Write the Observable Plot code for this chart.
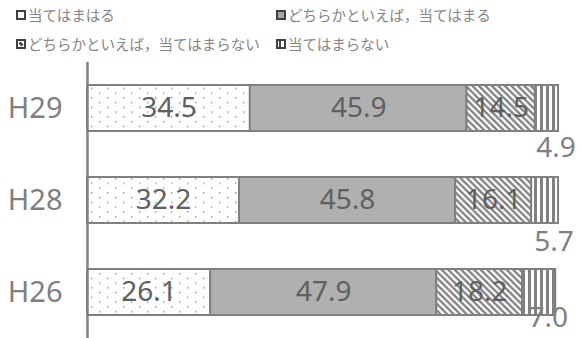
<!DOCTYPE html>
<html>
<head>
<meta charset="utf-8">
<script src="https://cdn.jsdelivr.net/npm/d3@7"></script>
<script src="https://cdn.jsdelivr.net/npm/@observablehq/plot@0.6"></script>
<style>
  body { margin: 0; background: #fff; }
  #wrap { position: relative; width: 581px; height: 338px; overflow: hidden; }
  #legend { position: relative; height: 62px; font-family: "Noto Sans CJK JP", sans-serif; font-size: 14.5px; color: #858585; }
  .item { position: absolute; display: flex; align-items: center; white-space: nowrap; line-height: 1; }
  .item svg { margin-right: 2px; }
  #chart svg { display: block; }
</style>
</head>
<body>
<div id="wrap">
  <div id="legend"></div>
  <div id="chart"></div>
</div>
<script>
// ---- data ----
const years = ["H29", "H28", "H26"];
const categories = [
  "当てはまはる",
  "どちらかといえば，当てはまる",
  "どちらかといえば，当てはまらない",
  "当てはまらない"
];
const fitsWell      = [34.5, 32.2, 26.1];
const fitsSomewhat  = [45.9, 45.8, 47.9];
const notSomewhat   = [14.5, 16.1, 18.2];
const notAtAll      = [4.9, 5.7, 7.0];

// ---- styles (not data) ----
const patternIds = ["pDots", "pSolid", "pDiag", "pVert"];
const smallLabelDy = {H29: 40, H28: 42, H26: 26};

// build table
const series = [fitsWell, fitsSomewhat, notSomewhat, notAtAll];
const rows = [];
years.forEach((y, i) => {
  let cum = 0;
  categories.forEach((c, j) => {
    const v = series[j][i];
    rows.push({year: y, cat: c, idx: j, value: v, x1: cum, x2: cum + v, mid: cum + v / 2});
    cum += v;
  });
});

// ---- legend ----
const legendPos = [
  {left: 16, top: 8}, {left: 276, top: 8},
  {left: 16, top: 37}, {left: 276, top: 37}
];
const swatchSvg = [
  `<rect x="1" y="1" width="8" height="8" fill="#fff" stroke="#404040" stroke-width="2"/>`,
  `<rect x="1" y="1" width="8" height="8" fill="#a6a6a6" stroke="#404040" stroke-width="2"/>`,
  `<rect x="1" y="1" width="8" height="8" fill="#fff" stroke="#404040" stroke-width="2"/><path d="M3,4 L6,7 M4,3 L7,6" stroke="#404040" stroke-width="1.4"/>`,
  `<rect x="1" y="1" width="8" height="8" fill="#fff" stroke="#404040" stroke-width="2"/><rect x="3" y="2" width="2" height="6" fill="#404040"/>`
];
const legend = document.getElementById("legend");
categories.forEach((c, j) => {
  const d = document.createElement("div");
  d.className = "item";
  d.style.left = legendPos[j].left + "px";
  d.style.top = legendPos[j].top + "px";
  d.innerHTML = `<svg width="10" height="10" viewBox="0 0 10 10">${swatchSvg[j]}</svg><span>${c}</span>`;
  legend.appendChild(d);
});

// ---- chart ----
const labelFont = "Noto Sans, sans-serif";
const inner = rows.filter(d => d.idx < 3);
const small = rows.filter(d => d.idx === 3);

const marks = [
  Plot.rectX(rows, {
    x1: "x1", x2: "x2", y: "year",
    fill: "cat", stroke: "#808080", strokeWidth: 2
  }),
  Plot.text(inner, {
    x: "mid", y: "year", text: d => d.value.toFixed(1),
    fill: "#606060", fontSize: 28, fontFamily: labelFont
  }),
  ...years.map(y => Plot.text(small.filter(d => d.year === y), {
    x: "mid", y: "year", text: d => d.value.toFixed(1),
    fill: "#808080", fontSize: 28, fontFamily: labelFont,
    dx: 9, dy: smallLabelDy[y]
  })),
  Plot.ruleX([0], {stroke: "#808080", strokeWidth: 2.5}),
  Plot.axisY({tickSize: 0, tickPadding: 25, fontSize: 29, color: "#7f7f7f", label: null, fontFamily: labelFont})
];

const chart = Plot.plot({
  width: 581,
  height: 276,
  marginLeft: 87,
  marginRight: 22,
  marginTop: 0,
  marginBottom: 0,
  x: {domain: [0, 100], axis: null},
  y: {domain: years, paddingInner: 0.5, paddingOuter: 0.25},
  color: {domain: categories, range: patternIds.map(id => `url(#${id})`)},
  style: {fontFamily: labelFont, overflow: "visible"},
  marks
});

// pattern defs
const svg = d3.select(chart);
const defs = svg.insert("defs", ":first-child");
// dots
const pd = defs.append("pattern").attr("id", "pDots").attr("patternUnits", "userSpaceOnUse")
  .attr("width", 16).attr("height", 9.5);
pd.append("rect").attr("width", 16).attr("height", 9.5).attr("fill", "#fff");
pd.append("rect").attr("x", 3).attr("y", 2).attr("width", 1.3).attr("height", 1.3).attr("fill", "#808080");
pd.append("rect").attr("x", 11).attr("y", 6.7).attr("width", 1.3).attr("height", 1.3).attr("fill", "#808080");
// solid
const ps = defs.append("pattern").attr("id", "pSolid").attr("patternUnits", "userSpaceOnUse")
  .attr("width", 4).attr("height", 4);
ps.append("rect").attr("width", 4).attr("height", 4).attr("fill", "#b0b0b0");
// diagonal
const pg = defs.append("pattern").attr("id", "pDiag").attr("patternUnits", "userSpaceOnUse")
  .attr("width", 6.5).attr("height", 6.5);
pg.append("rect").attr("width", 6.5).attr("height", 6.5).attr("fill", "#fff");
pg.append("path").attr("d", "M-1,-1 L7.5,7.5 M-1,5.5 L1,7.5 M5.5,-1 L7.5,1").attr("stroke", "#808080").attr("stroke-width", 2.3);
// vertical
const pv = defs.append("pattern").attr("id", "pVert").attr("patternUnits", "userSpaceOnUse")
  .attr("width", 6).attr("height", 6);
pv.append("rect").attr("width", 6).attr("height", 6).attr("fill", "#fff");
pv.append("rect").attr("x", 0).attr("width", 3).attr("height", 6).attr("fill", "#808080");

document.getElementById("chart").appendChild(chart);
</script>
</body>
</html>
